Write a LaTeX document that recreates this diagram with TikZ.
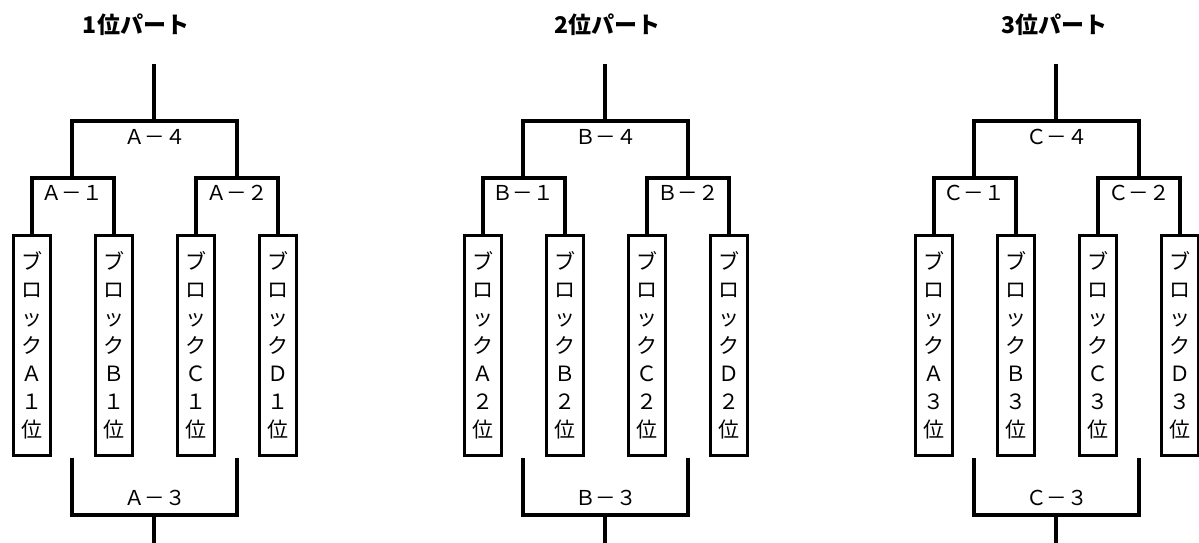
\documentclass[tikz,border=0pt]{standalone}
\usepackage{fontspec}
\setmainfont{Noto Sans CJK JP}
\usepackage{tikz}
\tikzset{
    blk/.style={draw, line width=2.8pt, minimum width=37pt, minimum height=220pt,
        inner sep=0pt, align=center, font=\fontsize{21}{28}\selectfont},
    lbl/.style={inner sep=0pt, font=\fontsize{20.5}{22}\selectfont},
    ttl/.style={inner sep=0pt, font=\fontsize{23}{25}\selectfont\bfseries}
}
\tikzset{
    brk/.style={line width=4.3pt}
}

\begin{document}
\begin{tikzpicture}[x=1pt, y=-1pt]
  \useasboundingbox (0,0) rectangle (1199,543);

  % 1st part
  \node (tA) [ttl] at (136,25) {1位パート};
  \node (a1) [blk] at (32,345.5) {ブ\\ロ\\ッ\\ク\\Ａ\\１\\位};
  \node (a2) [blk] at (114,345.5) {ブ\\ロ\\ッ\\ク\\Ｂ\\１\\位};
  \node (a3) [blk] at (196,345.5) {ブ\\ロ\\ッ\\ク\\Ｃ\\１\\位};
  \node (a4) [blk] at (278,345.5) {ブ\\ロ\\ッ\\ク\\Ｄ\\１\\位};
  \coordinate (jA1) at (72,178);
  \coordinate (jA2) at (237,178);
  \coordinate (jA4) at (154,121);
  \coordinate (topA) at (154,64);
  \coordinate (lA3) at (72,458);
  \coordinate (rA3) at (237,458);
  \coordinate (jA3) at (154,515);
  \coordinate (botA) at (154,545);
  \node (A1) [lbl] at (72,193) {Ａ－１};
  \node (A2) [lbl] at (237,193) {Ａ－２};
  \node (A4) [lbl] at (155,137) {Ａ－４};
  \node (A3) [lbl] at (155,498) {Ａ－３};
  \draw [brk] (a1.north) |- (jA1) -| (a2.north);
  \draw [brk] (a3.north) |- (jA2) -| (a4.north);
  \draw [brk] (jA1) |- (jA4) -| (jA2);
  \draw [brk] (jA4) -- (topA);
  \draw [brk] (lA3) |- (jA3) -| (rA3);
  \draw [brk] (jA3) -- (botA);

  % 2nd part
  \node (tB) [ttl] at (607,25) {2位パート};
  \node (b1) [blk] at (483,345.5) {ブ\\ロ\\ッ\\ク\\Ａ\\２\\位};
  \node (b2) [blk] at (565,345.5) {ブ\\ロ\\ッ\\ク\\Ｂ\\２\\位};
  \node (b3) [blk] at (647,345.5) {ブ\\ロ\\ッ\\ク\\Ｃ\\２\\位};
  \node (b4) [blk] at (729,345.5) {ブ\\ロ\\ッ\\ク\\Ｄ\\２\\位};
  \coordinate (jB1) at (523,178);
  \coordinate (jB2) at (688,178);
  \coordinate (jB4) at (605,121);
  \coordinate (topB) at (605,64);
  \coordinate (lB3) at (523,458);
  \coordinate (rB3) at (688,458);
  \coordinate (jB3) at (605,515);
  \coordinate (botB) at (605,545);
  \node (B1) [lbl] at (523,193) {Ｂ－１};
  \node (B2) [lbl] at (688,193) {Ｂ－２};
  \node (B4) [lbl] at (606,137) {Ｂ－４};
  \node (B3) [lbl] at (606,498) {Ｂ－３};
  \draw [brk] (b1.north) |- (jB1) -| (b2.north);
  \draw [brk] (b3.north) |- (jB2) -| (b4.north);
  \draw [brk] (jB1) |- (jB4) -| (jB2);
  \draw [brk] (jB4) -- (topB);
  \draw [brk] (lB3) |- (jB3) -| (rB3);
  \draw [brk] (jB3) -- (botB);

  % 3rd part
  \node (tC) [ttl] at (1054,25) {3位パート};
  \node (c1) [blk] at (934,345.5) {ブ\\ロ\\ッ\\ク\\Ａ\\３\\位};
  \node (c2) [blk] at (1016,345.5) {ブ\\ロ\\ッ\\ク\\Ｂ\\３\\位};
  \node (c3) [blk] at (1098,345.5) {ブ\\ロ\\ッ\\ク\\Ｃ\\３\\位};
  \node (c4) [blk] at (1180,345.5) {ブ\\ロ\\ッ\\ク\\Ｄ\\３\\位};
  \coordinate (jC1) at (974,178);
  \coordinate (jC2) at (1139,178);
  \coordinate (jC4) at (1056,121);
  \coordinate (topC) at (1056,64);
  \coordinate (lC3) at (974,458);
  \coordinate (rC3) at (1139,458);
  \coordinate (jC3) at (1056,515);
  \coordinate (botC) at (1056,545);
  \node (C1) [lbl] at (974,193) {Ｃ－１};
  \node (C2) [lbl] at (1139,193) {Ｃ－２};
  \node (C4) [lbl] at (1057,137) {Ｃ－４};
  \node (C3) [lbl] at (1057,498) {Ｃ－３};
  \draw [brk] (c1.north) |- (jC1) -| (c2.north);
  \draw [brk] (c3.north) |- (jC2) -| (c4.north);
  \draw [brk] (jC1) |- (jC4) -| (jC2);
  \draw [brk] (jC4) -- (topC);
  \draw [brk] (lC3) |- (jC3) -| (rC3);
  \draw [brk] (jC3) -- (botC);
\end{tikzpicture}
\end{document}
